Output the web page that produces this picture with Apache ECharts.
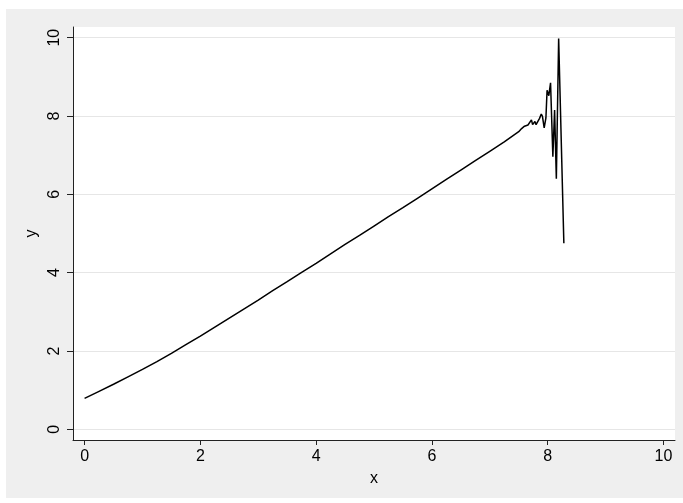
<!DOCTYPE html>
<html><head><meta charset="utf-8">
<script src="https://cdn.jsdelivr.net/npm/echarts@6/dist/echarts.min.js"></script>
<style>html,body{margin:0;padding:0;background:#fff}#c{width:683px;height:503px}</style>
</head><body><div id="c"></div>
<script>
const xValues = [0, 0.25, 0.5, 0.75, 1.0, 1.25, 1.5, 1.75, 2.0, 2.25, 2.5, 2.75, 3.0, 3.25, 3.5, 3.75, 4.0, 4.25, 4.5, 4.75, 5.0, 5.25, 5.5, 5.75, 6.0, 6.25, 6.5, 6.75, 7.0, 7.25, 7.5,
  7.55, 7.60, 7.63, 7.66, 7.69, 7.72, 7.74, 7.76, 7.78, 7.80, 7.82, 7.86, 7.89, 7.91, 7.94, 7.97, 7.99, 8.02, 8.05, 8.09, 8.12, 8.15, 8.19, 8.28];
const yValues = [0.79, 0.97, 1.15, 1.34, 1.53, 1.73, 1.94, 2.16, 2.38, 2.61, 2.84, 3.07, 3.30, 3.54, 3.77, 4.01, 4.24, 4.48, 4.72, 4.95, 5.19, 5.43, 5.66, 5.90, 6.14, 6.38, 6.62, 6.86, 7.10, 7.34, 7.60,
  7.68, 7.74, 7.78, 7.77, 7.81, 7.90, 7.78, 7.82, 7.86, 7.78, 7.82, 7.94, 8.05, 7.99, 7.70, 7.95, 8.66, 8.52, 8.85, 6.96, 8.15, 6.40, 9.98, 4.75];
const xTicks = [0, 2, 4, 6, 8, 10];
const yTicks = [0, 2, 4, 6, 8, 10];

const FONT = '"Liberation Sans", Arial, Helvetica, sans-serif';
const chart = echarts.init(document.getElementById('c'), null, {renderer: 'canvas'});
const points = xValues.map((x, i) => [x, yValues[i]]);
chart.setOption({
  animation: false,
  backgroundColor: '#ffffff',
  graphic: [{type: 'rect', z: -10, silent: true, shape: {x: 6, y: 9, width: 677, height: 489}, style: {fill: '#efefef'}}],
  grid: {left: 73, right: 8, top: 27, bottom: 63, show: true, backgroundColor: '#ffffff', borderWidth: 0},
  xAxis: {
    type: 'value', min: -0.2, max: 10.2,
    axisLine: {show: true, onZero: false, lineStyle: {color: '#222', width: 1}},
    axisTick: {show: true, length: 5, customValues: xTicks, lineStyle: {color: '#222', width: 1}},
    axisLabel: {customValues: xTicks, fontSize: 16, color: '#000', margin: 9, fontFamily: FONT},
    splitLine: {show: false},
    name: 'x', nameLocation: 'middle', nameGap: 31,
    nameTextStyle: {fontSize: 16, color: '#000', fontFamily: FONT}
  },
  yAxis: {
    type: 'value', min: -0.273, max: 10.273,
    axisLine: {show: true, onZero: false, lineStyle: {color: '#222', width: 1}},
    axisTick: {show: true, length: 6, customValues: yTicks, lineStyle: {color: '#222', width: 1}},
    axisLabel: {customValues: yTicks, fontSize: 16, color: '#000', margin: 10, rotate: 90, fontFamily: FONT},
    splitLine: {show: true, lineStyle: {color: '#e6e6e6', width: 1.2}},
    name: 'y', nameLocation: 'middle', nameGap: 28,
    nameTextStyle: {fontSize: 16, color: '#000', fontFamily: FONT}
  },
  series: [{
    type: 'line', data: points, showSymbol: false, symbol: 'none',
    lineStyle: {color: '#000', width: 1.5}, z: 3
  }]
});
</script></body></html>
